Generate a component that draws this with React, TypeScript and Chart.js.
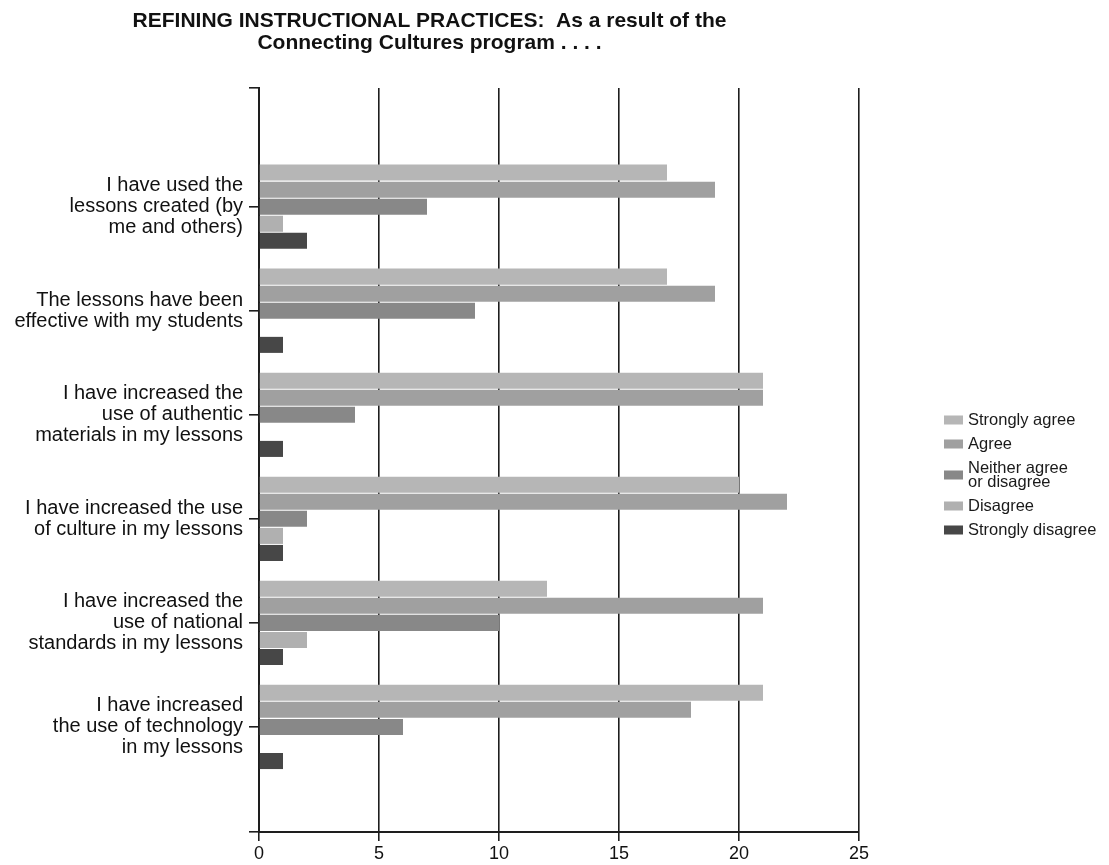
import React, { useEffect, useRef } from "react";
import { Chart, registerables } from "chart.js";

Chart.register(...registerables);

const titleLines = [
  "REFINING INSTRUCTIONAL PRACTICES:  As a result of the",
  "Connecting Cultures program . . . .",
];

const categories: string[][] = [
  ["I have used the", "lessons created (by", "me and others)"],
  ["The lessons have been", "effective with my students"],
  ["I have increased the", "use of authentic", "materials in my lessons"],
  ["I have increased the use", "of culture in my lessons"],
  ["I have increased the", "use of national", "standards in my lessons"],
  ["I have increased", "the use of technology", "in my lessons"],
];

const seriesNames = [
  "Strongly agree",
  "Agree",
  "Neither agree\nor disagree",
  "Disagree",
  "Strongly disagree",
];

const stronglyAgree = [17, 17, 21, 20, 12, 21];
const agree = [19, 19, 21, 22, 21, 18];
const neither = [7, 9, 4, 2, 10, 6];
const disagree = [1, 0, 0, 1, 2, 0];
const stronglyDisagree = [2, 1, 1, 1, 1, 1];

const xMin = 0;
const xMax = 25;
const xStep = 5;

const yMin = -1.14;
const yMax = 6.01;

const seriesColors = ["#b6b6b6", "#a0a0a0", "#888888", "#b0b0b0", "#474747"];

const FONT = "'Liberation Sans', Arial, sans-serif";

const legendPlugin = {
  id: "sideLegend",
  afterDraw(chart: any) {
    const ctx = chart.ctx;
    ctx.save();
    ctx.font = `16.5px ${FONT}`;
    ctx.textBaseline = "middle";
    ctx.textAlign = "left";
    const lineStep = 14;
    const itemStep = 24;
    let y = 420;
    const x = 944;
    chart.data.datasets.forEach((ds: any) => {
      const lines = String(ds.label).split("\n");
      const blockCenter = y + ((lines.length - 1) * lineStep) / 2;
      ctx.fillStyle = ds.backgroundColor;
      ctx.fillRect(x, blockCenter - 4.5, 19, 9);
      ctx.fillStyle = "#1a1a1a";
      lines.forEach((ln: string, k: number) => {
        ctx.fillText(ln, x + 24, y + k * lineStep);
      });
      y += (lines.length - 1) * lineStep + itemStep;
    });
    ctx.restore();
  },
};

export default function App() {
  const canvasRef = useRef<HTMLCanvasElement | null>(null);

  useEffect(() => {
    if (!canvasRef.current) return;
    const series = [stronglyAgree, agree, neither, disagree, stronglyDisagree];
    const yTickValues = [yMin, 0, 1, 2, 3, 4, 5, yMax];
    const chart = new Chart(canvasRef.current, {
      type: "bar",
      data: {
        datasets: series.map((vals, s) => ({
          label: seriesNames[s],
          data: vals.map((v, i) => ({ x: v, y: i })),
          backgroundColor: seriesColors[s],
          borderWidth: 0,
          categoryPercentage: 0.82,
          barPercentage: 0.94,
        })),
      },
      options: {
        indexAxis: "y",
        animation: false,
        responsive: false,
        layout: { padding: { top: 0, right: 250, bottom: 0, left: 0 } },
        plugins: {
          legend: { display: false },
          tooltip: { enabled: false },
          title: {
            display: true,
            text: titleLines,
            color: "#111",
            font: { family: FONT, size: 21, weight: "bold", lineHeight: 1.05 },
            padding: { top: 10, bottom: 34 },
          },
        },
        scales: {
          x: {
            type: "linear",
            min: xMin,
            max: xMax,
            ticks: {
              stepSize: xStep,
              color: "#111",
              font: { family: FONT, size: 18 },
              padding: 2,
            },
            grid: {
              color: "#1e1e1e",
              lineWidth: 1.6,
              drawTicks: true,
              tickLength: 9,
            },
            border: { display: true, color: "#1e1e1e", width: 2 },
            afterFit: (scale: any) => {
              scale.height = 33;
            },
          },
          y: {
            type: "linear",
            reverse: true,
            offset: false,
            min: yMin,
            max: yMax,
            afterBuildTicks: (scale: any) => {
              scale.ticks = yTickValues.map((v) => ({ value: v }));
            },
            ticks: {
              autoSkip: false,
              color: "#111",
              font: { family: FONT, size: 20, lineHeight: 1.05 },
              padding: 6,
              callback: (value: any) => {
                const v = Number(value);
                return Number.isInteger(v) && v >= 0 && v < categories.length
                  ? categories[v]
                  : "";
              },
            },
            grid: {
              display: true,
              offset: false,
              drawOnChartArea: false,
              drawTicks: true,
              tickLength: 10,
              color: "#1e1e1e",
              lineWidth: 1.6,
            },
            border: { display: true, color: "#1e1e1e", width: 2 },
            afterFit: (scale: any) => {
              scale.width = 259;
            },
          },
        },
      },
      plugins: [legendPlugin],
    });
    return () => chart.destroy();
  }, []);

  return (
    <div
      style={{
        position: "absolute",
        left: 0,
        top: 0,
        width: 1109,
        height: 865,
        background: "#fff",
      }}
    >
      <canvas ref={canvasRef} width={1109} height={865} />
    </div>
  );
}
